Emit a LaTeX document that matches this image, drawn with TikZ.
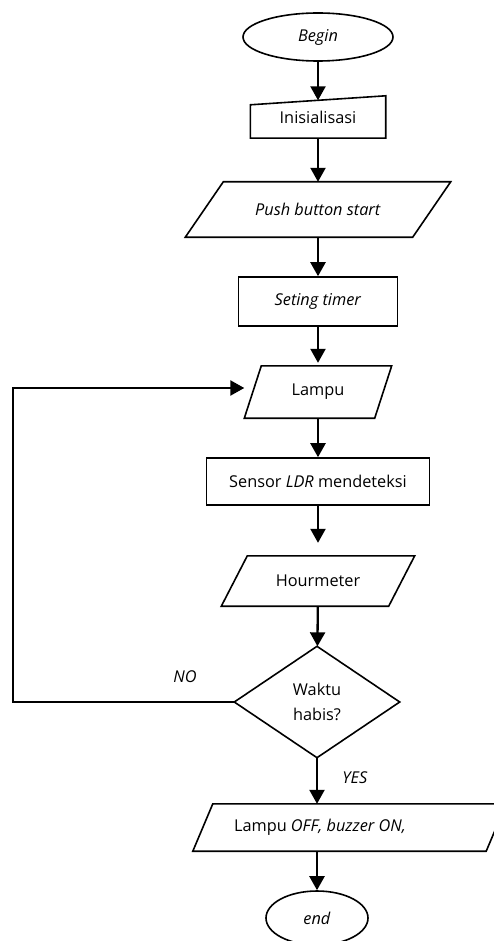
\documentclass[tikz,border=0pt]{standalone}
\usepackage{fontspec}
\setmainfont{Open Sans}
\usetikzlibrary{arrows.meta,shapes.geometric}

\newcommand{\paraline}[2]{%
  \draw[line width=1.6pt] ([xshift=#2]#1.north west) -- (#1.north east)
    -- ([xshift=-#2]#1.south east) -- (#1.south west) -- cycle;}

\begin{document}
\begin{tikzpicture}[x=1pt,y=-1pt,
    font=\fontsize{16.3}{25}\selectfont,
    term/.style={ellipse,draw,line width=1.6pt,inner sep=0pt},
    box/.style={rectangle,draw,line width=1.6pt,inner sep=0pt},
    hull/.style={rectangle,inner sep=0pt},
    flow/.style={line width=2.3pt,-{Triangle[length=14pt,width=15pt]}}]

\useasboundingbox (0,0) rectangle (494,941);

\node[term,minimum width=150,minimum height=48] (begin) at (318,37) {\textit{Begin}};
\node[hull,minimum width=135,minimum height=42] (init) at (318,117) {\raisebox{-5pt}{Inisialisasi}};
\draw[line width=1.6pt] ([yshift=-9]init.north west) -- (init.north east)
  -- (init.south east) -- (init.south west) -- cycle;
\node[hull,minimum width=265,minimum height=55] (push) at (318,209.5) {\textit{Push button start}};
\paraline{push}{38}
\node[box,minimum width=159,minimum height=49] (timer) at (318,301.5) {\textit{Seting timer}};
\node[hull,minimum width=147,minimum height=52] (lampu) at (318,392) {Lampu};
\paraline{lampu}{17}
\node[box,minimum width=223,minimum height=47] (sensor) at (318,481.5) {Sensor \textit{LDR} mendeteksi};
\node[hull,minimum width=193,minimum height=50] (hour) at (318,581) {Hourmeter};
\paraline{hour}{26}
\node[hull,minimum width=165,minimum height=111,align=center] (dec) at (317,702) {Waktu\\habis?};
\draw[line width=1.6pt] (dec.north) -- (dec.east) -- (dec.south) -- (dec.west) -- cycle;
\node[hull,minimum width=313,minimum height=47] (off) at (349.5,827.5) {Lampu \textit{OFF, buzzer ON,}\hspace*{59pt}};
\paraline{off}{20}
\node[term,minimum width=102,minimum height=54] (stop) at (317,918) {\textit{end}};

\node (no) at (185,677) {\textit{NO}};
\node (yes) at (355,778) {\textit{YES}};
\coordinate (fb) at (13,702);

\draw[flow] (begin) -- ([yshift=-4.5]init.north);
\draw[flow] (init) -- (push);
\draw[flow] (push) -- (timer);
\draw[flow] (timer) -- ([yshift=3]lampu.north);
\draw[flow] (lampu) -- (sensor);
\draw[flow] (sensor) -- ([yshift=13]hour.north);
\draw[flow] (hour) -- (dec);
\draw[flow] (dec) -- (dec.south |- off.north);
\draw[flow] (off.south -| stop.north) -- (stop);
\draw[flow] (dec.west) -- (fb) |- ([yshift=4]lampu.west);
\end{tikzpicture}
\end{document}
